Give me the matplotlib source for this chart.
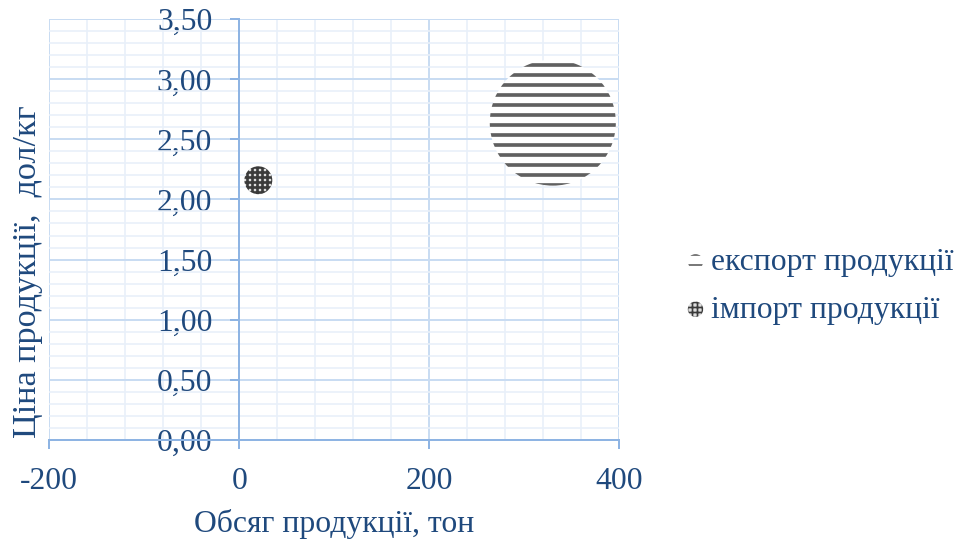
import matplotlib.pyplot as plt
from matplotlib.ticker import MultipleLocator, FixedLocator, FixedFormatter

# Bubble data: volume (tons), price (USD/kg), bubble size (value)
series = ['експорт продукції', 'імпорт продукції']
volume = [330, 20]
price = [2.64, 2.16]
bubble_size = [880, 43]

x_ticks = [-200, 0, 200, 400]
x_labels = ['-200', '0', '200', '400']
y_ticks = [0.0, 0.5, 1.0, 1.5, 2.0, 2.5, 3.0, 3.5]
y_labels = ['0,00', '0,50', '1,00', '1,50', '2,00', '2,50', '3,00', '3,50']

x_title = 'Обсяг продукції, тон'
y_title = 'Ціна продукції,  дол/кг'

text_col = '#1f497d'
axis_col = '#8eb4e3'
major_col = '#c9dcf2'
minor_col = '#e9f0f9'

# one look per series: face, hatch colour, hatch, hatch line width
looks = [
    dict(fc='white', ec='#606060', hatch='--', hlw=2.2),
    dict(fc='#dddddd', ec='#3a3a3a', hatch='++++', hlw=1.6),
]

plt.rcParams['font.family'] = ['Liberation Serif', 'DejaVu Serif']

fig = plt.figure(figsize=(8, 4.5), dpi=120)
ax = fig.add_axes([0.0514, 0.1857, 0.5937, 0.7786])

size_scale = 6.5
handles = []
for i, name in enumerate(series):
    lk = looks[i]
    sc = ax.scatter([volume[i]], [price[i]], s=[bubble_size[i] * size_scale],
                    facecolor=lk['fc'], edgecolor=lk['ec'], linewidths=0,
                    hatch=lk['hatch'], zorder=3)
    # small proxy for the legend
    h = ax.scatter([], [], s=85, facecolor=lk['fc'], edgecolor=lk['ec'],
                   linewidths=0, hatch=lk['hatch'], label=name)
    if hasattr(sc, 'set_hatch_linewidth'):
        sc.set_hatch_linewidth(lk['hlw'])
        h.set_hatch_linewidth(lk['hlw'])
    handles.append(h)

ax.set_xlim(-200, 400)
ax.set_ylim(0, 3.5)
ax.xaxis.set_major_locator(FixedLocator(x_ticks))
ax.xaxis.set_major_formatter(FixedFormatter(x_labels))
ax.yaxis.set_major_locator(FixedLocator(y_ticks))
ax.yaxis.set_major_formatter(FixedFormatter(y_labels))
ax.xaxis.set_minor_locator(MultipleLocator(40))
ax.yaxis.set_minor_locator(MultipleLocator(0.1))

ax.set_axisbelow(True)
ax.grid(which='major', color=major_col, lw=1.2)
ax.grid(which='minor', color=minor_col, lw=1.0)

for spine in ('top', 'right'):
    ax.spines[spine].set_visible(False)
ax.spines['left'].set_position(('data', 0))
ax.spines['bottom'].set_position(('data', 0))
for spine in ('left', 'bottom'):
    ax.spines[spine].set_color(axis_col)
    ax.spines[spine].set_linewidth(1.2)

ax.tick_params(which='major', direction='out', length=5.2, width=1.2,
               color=axis_col, pad=11, labelsize=19, labelcolor=text_col)
ax.tick_params(which='minor', length=0)

ax.set_xlabel(x_title, fontsize=19, color=text_col)
ax.xaxis.set_label_coords(0.5, -0.165)
ax.set_ylabel(y_title, fontsize=20.5, color=text_col)
ax.yaxis.set_label_coords(-0.011, 0.40)

leg = ax.legend(handles=handles, loc='center left', bbox_to_anchor=(0.7146, 0.47),
                bbox_transform=fig.transFigure, frameon=False, fontsize=19,
                labelcolor=text_col, handlelength=0.6, handletextpad=0.2,
                labelspacing=0.58, borderpad=0, borderaxespad=0, scatterpoints=1)

fig.savefig('out.png', dpi=120)
